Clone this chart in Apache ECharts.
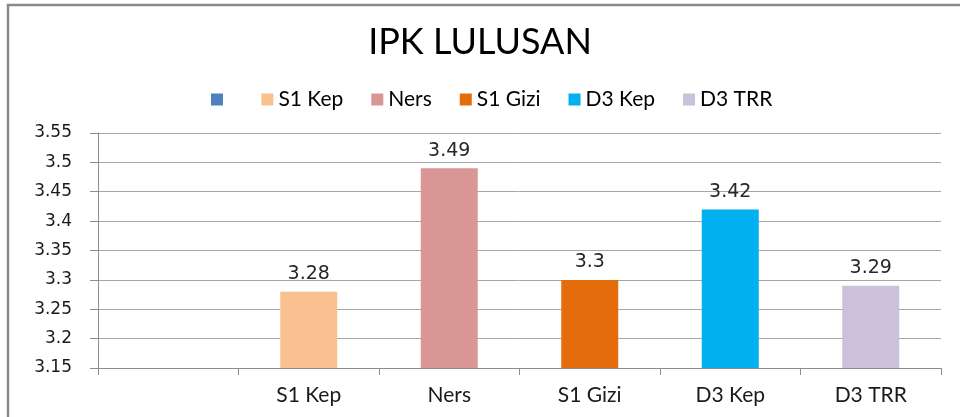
<!DOCTYPE html>
<html style="height: 100%">
<head>
<meta charset="utf-8">
</head>
<body style="height: 100%; margin: 0; background: #fff">
<div id="container" style="width: 960px; height: 417px"></div>
<script src="https://cdn.jsdelivr.net/npm/echarts@6/dist/echarts.min.js"></script>
<script type="text/javascript">

// categories on the x axis (first one is blank in the original)
var categories = ['', 'S1 Kep', 'Ners', 'S1 Gizi', 'D3 Kep', 'D3 TRR'];
// legend / series names
var seriesNames = [' ', 'S1 Kep', 'Ners', 'S1 Gizi', 'D3 Kep', 'D3 TRR'];
// IPK value per program (blank one has no bar)
var ipk = [null, 3.28, 3.49, 3.3, 3.42, 3.29];
var colors = ['#4F81BD', '#FAC090', '#D99694', '#E46C0A', '#00B0F0', '#CCC1DA'];
// y axis ticks
var yMin = 3.15, yMax = 3.55, yStep = 0.05;

var dom = document.getElementById('container');
var myChart = echarts.init(dom);

var series = [];
for (var i = 0; i < seriesNames.length; i++) {
    var d = [];
    for (var j = 0; j < categories.length; j++) {
        d.push(j === i ? ipk[i] : null);
    }
    series.push({
        name: seriesNames[i],
        type: 'bar',
        stack: 'ipk',
        barWidth: 57,
        data: d,
        itemStyle: {color: colors[i]},
        label: {
            show: true,
            position: 'top',
            distance: 8,
            fontFamily: 'DejaVu Sans',
            fontSize: 19,
            color: '#262626'
        }
    });
}

var option = {
    animation: false,
    color: colors,
    title: {
        text: 'IPK LULUSAN',
        left: 'center',
        top: 19,
        textStyle: {
            fontFamily: 'Lato',
            fontWeight: 'normal',
            fontSize: 36,
            color: '#000'
        }
    },
    legend: {
        data: seriesNames,
        top: 84,
        left: 206,
        itemWidth: 12,
        itemHeight: 12,
        itemGap: 28,
        icon: 'rect',
        textStyle: {
            fontFamily: 'Lato',
            fontSize: 21,
            color: '#000'
        }
    },
    grid: {
        left: 98,
        right: 19,
        top: 133,
        bottom: 49
    },
    xAxis: {
        type: 'category',
        data: categories,
        axisLine: {lineStyle: {color: '#8c8c8c'}},
        axisTick: {show: true, length: 7, alignWithLabel: false, lineStyle: {color: '#8c8c8c'}},
        axisLabel: {
            margin: 17,
            fontFamily: 'Lato',
            fontSize: 21,
            color: '#1a1a1a'
        }
    },
    yAxis: {
        type: 'value',
        min: yMin,
        max: yMax,
        interval: yStep,
        axisLine: {show: true, lineStyle: {color: '#8c8c8c'}},
        axisTick: {show: true, length: 8, lineStyle: {color: '#8c8c8c'}},
        splitLine: {lineStyle: {color: '#a6a6a6'}},
        axisLabel: {
            margin: 26,
            fontFamily: 'DejaVu Sans',
            fontSize: 17,
            color: '#1a1a1a',
            formatter: function (v) {
                return String(parseFloat(v.toFixed(2)));
            }
        }
    },
    graphic: [
        {
            type: 'rect',
            shape: {x: 8, y: 5, width: 1000, height: 500},
            style: {fill: null, stroke: '#8a8a8a', lineWidth: 2.5},
            silent: true
        }
    ],
    series: series
};

myChart.setOption(option);

</script>
</body>
</html>
